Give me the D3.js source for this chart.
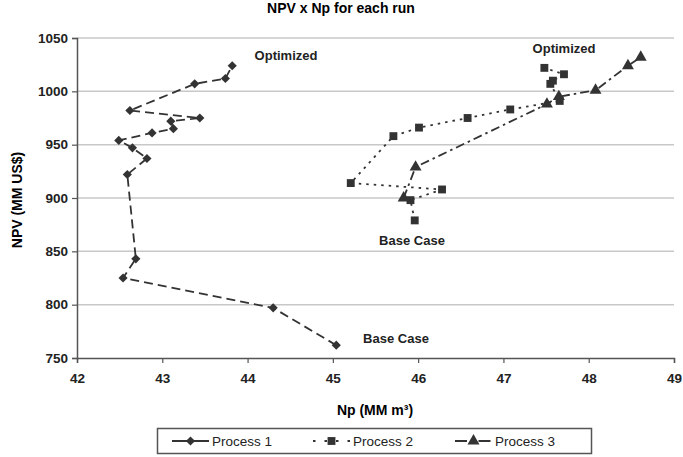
<!DOCTYPE html>
<html>
<head>
<meta charset="utf-8">
<script src="https://cdn.jsdelivr.net/npm/d3@7"></script>
<style>
  body { margin: 0; background: #fff; }
  svg { font-family: "Liberation Sans", Arial, sans-serif; }
</style>
</head>
<body>
<div id="chart"></div>
<script>
const width = 683;
const height = 457;
const margin = {top: 38, right: 9, bottom: 99, left: 77};

// Np (MM m3) and NPV (MM US$) for each run, in run order (base case first)
const p1Np  = [45.04, 44.30, 42.54, 42.69, 42.59, 42.82, 42.65, 42.49, 42.88, 43.13, 43.10, 43.44, 42.62, 43.38, 43.74, 43.82];
const p1NPV = [762, 797, 825, 843, 922, 937, 947, 954, 961, 965, 972, 975, 982, 1007, 1012, 1024];
const p2Np  = [45.96, 45.91, 46.28, 45.21, 45.71, 46.01, 46.58, 47.08, 47.66, 47.55, 47.58, 47.71, 47.48];
const p2NPV = [879, 898, 908, 914, 958, 966, 975, 983, 991, 1007, 1010, 1016, 1022];
const p3Np  = [45.83, 45.97, 47.51, 47.65, 48.08, 48.46, 48.61];
const p3NPV = [900, 929, 988, 995, 1001, 1024, 1032];

const seriesNames = ["Process 1", "Process 2", "Process 3"];
const xTicks = [42, 43, 44, 45, 46, 47, 48, 49];
const yTicks = [750, 800, 850, 900, 950, 1000, 1050];

const series = [
  {name: seriesNames[0], np: p1Np, npv: p1NPV, symbol: d3.symbolSquare, size: 42, rot: 45, dash: "9,5"},
  {name: seriesNames[1], np: p2Np, npv: p2NPV, symbol: d3.symbolSquare, size: 62, rot: 0, dash: "2.5,5"},
  {name: seriesNames[2], np: p3Np, npv: p3NPV, symbol: d3.symbolTriangle, size: 62, rot: 0, dash: "9,4,2.5,4"}
];

const ink = "#333";

const svg = d3.select("#chart").append("svg")
  .attr("width", width)
  .attr("height", height);

const x = d3.scaleLinear().domain([42, 49]).range([margin.left, width - margin.right]);
const y = d3.scaleLinear().domain([750, 1050]).range([height - margin.bottom, margin.top]);

// title
svg.append("text")
  .attr("x", 341).attr("y", 13)
  .attr("text-anchor", "middle")
  .attr("font-size", 14).attr("font-weight", "bold")
  .text("NPV x Np for each run");

// gridlines
svg.append("g")
  .selectAll("line")
  .data(yTicks.slice(1))
  .join("line")
  .attr("x1", margin.left).attr("x2", width - margin.right)
  .attr("y1", d => y(d)).attr("y2", d => y(d))
  .attr("stroke", "#c8c8c8").attr("stroke-width", 1.5);

// axes
const xAxis = svg.append("g")
  .attr("transform", `translate(0,${height - margin.bottom})`)
  .call(d3.axisBottom(x).tickValues(xTicks).tickSize(5).tickPadding(10).tickFormat(d3.format("d")));
const yAxis = svg.append("g")
  .attr("transform", `translate(${margin.left},0)`)
  .call(d3.axisLeft(y).tickValues(yTicks).tickSize(5).tickPadding(4).tickFormat(d3.format("d")));

[xAxis, yAxis].forEach(a => {
  a.select(".domain").attr("stroke", "#555").attr("stroke-width", 1.5);
  a.selectAll(".tick line").attr("stroke", "#555").attr("stroke-width", 1.2);
  a.selectAll(".tick text")
    .attr("font-family", "Liberation Sans, Arial, sans-serif")
    .attr("font-size", 13.5).attr("font-weight", "bold").attr("fill", "#222");
});

// axis titles
svg.append("text")
  .attr("x", 375).attr("y", 415)
  .attr("text-anchor", "middle")
  .attr("font-size", 14).attr("font-weight", "bold")
  .text("Np (MM m³)");
svg.append("text")
  .attr("transform", "translate(22,200) rotate(-90)")
  .attr("text-anchor", "middle")
  .attr("font-size", 14).attr("font-weight", "bold")
  .text("NPV (MM US$)");

// series lines and markers
const line = d3.line().x(d => x(d[0])).y(d => y(d[1]));

series.forEach(s => {
  const pts = s.np.map((v, i) => [v, s.npv[i]]);
  svg.append("path")
    .datum(pts)
    .attr("d", line)
    .attr("fill", "none")
    .attr("stroke", ink)
    .attr("stroke-width", 1.8)
    .attr("stroke-dasharray", s.dash);
  svg.append("g")
    .selectAll("path")
    .data(pts)
    .join("path")
    .attr("transform", d => `translate(${x(d[0])},${y(d[1])}) rotate(${s.rot})`)
    .attr("d", d3.symbol().type(s.symbol).size(s.size))
    .attr("fill", ink);
});

// annotations
const notes = [
  {text: "Optimized", px: 286, py: 60},
  {text: "Optimized", px: 564, py: 53},
  {text: "Base Case", px: 412, py: 245},
  {text: "Base Case", px: 396, py: 343}
];
svg.append("g")
  .selectAll("text")
  .data(notes)
  .join("text")
  .attr("x", d => d.px).attr("y", d => d.py)
  .attr("text-anchor", "middle")
  .attr("font-size", 13).attr("font-weight", "bold")
  .attr("fill", "#222")
  .text(d => d.text);

// legend
const legend = svg.append("g");
legend.append("rect")
  .attr("x", 157.5).attr("y", 428.5)
  .attr("width", 434).attr("height", 25)
  .attr("fill", "#fff").attr("stroke", "#555").attr("stroke-width", 1.5);

const legendX = [172, 313, 455];
const legendDash = ["none", "2.5,9", "12,5,2.5,4"];
series.forEach((s, i) => {
  const g = legend.append("g").attr("transform", `translate(${legendX[i]},441)`);
  g.append("line")
    .attr("x1", 0).attr("x2", 37)
    .attr("stroke", ink).attr("stroke-width", 1.8)
    .attr("stroke-dasharray", legendDash[i]);
  g.append("path")
    .attr("transform", `translate(18.5,0) rotate(${s.rot})`)
    .attr("d", d3.symbol().type(s.symbol).size(s.size))
    .attr("fill", ink);
  g.append("text")
    .attr("x", 40).attr("y", 5)
    .attr("font-size", 13.5)
    .attr("fill", "#222")
    .text(s.name);
});
</script>
</body>
</html>
